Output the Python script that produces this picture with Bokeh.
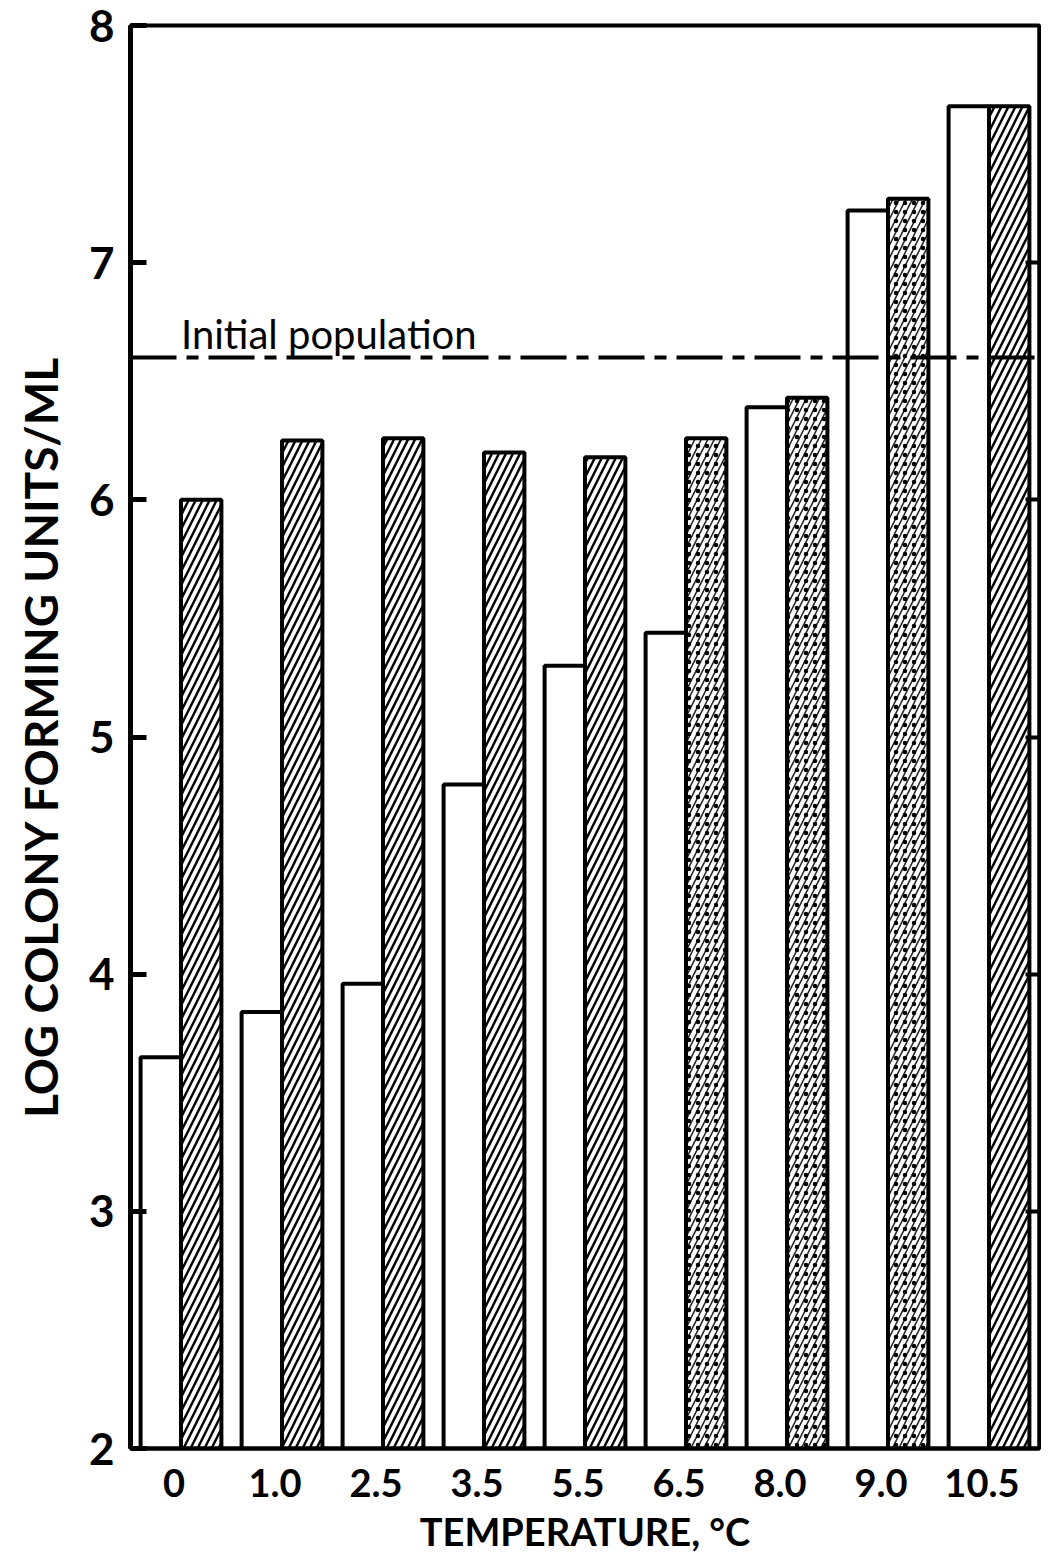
from bokeh.plotting import figure
from bokeh.models import (Range1d, FixedTicker, LinearAxis, Span, Label,
                          ColumnDataSource, CustomJSTickFormatter)
from bokeh.transform import dodge
from bokeh.embed import file_html
from bokeh.resources import INLINE

# ---- data ----
temps = ["0", "1.0", "2.5", "3.5", "5.5", "6.5", "8.0", "9.0", "10.5"]
open_bars = [3.65, 3.84, 3.96, 4.80, 5.30, 5.44, 6.39, 7.22, 7.66]
hatched_bars = [6.00, 6.25, 6.26, 6.20, 6.18, 6.26, 6.43, 7.27, 7.66]
initial_population = 6.6
y_ticks = [2, 3, 4, 5, 6, 7, 8]
# style: which hatched bars are drawn stippled
stippled = [False, False, False, False, False, True, True, True, False]

idx = list(range(len(temps)))
FONT = "Lato"

src_all = ColumnDataSource(dict(idx=idx, open=open_bars, hatched=hatched_bars))
src_dense = ColumnDataSource(dict(
    idx=[i for i in idx if not stippled[i]],
    hatched=[hatched_bars[i] for i in idx if not stippled[i]]))
src_stip = ColumnDataSource(dict(
    idx=[i for i in idx if stippled[i]],
    hatched=[hatched_bars[i] for i in idx if stippled[i]]))

p = figure(width=1041, height=1556, output_backend="svg", toolbar_location=None,
           x_range=Range1d(-0.5, 8.5), y_range=Range1d(y_ticks[0], y_ticks[-1]),
           min_border_left=130, min_border_top=25, min_border_bottom=100,
           min_border_right=2)
p.grid.visible = False
p.background_fill_color = "white"
p.border_fill_color = "white"
p.outline_line_color = "black"
p.outline_line_width = 4

base = y_ticks[0]

# open (white) bars
p.vbar(x=dodge("idx", -0.2, range=p.x_range), top="open", bottom=base, width=0.4,
       source=src_all, fill_color="white", line_color="black", line_width=4)

# densely hatched bars
p.vbar(x=dodge("idx", 0.2, range=p.x_range), top="hatched", bottom=base, width=0.4,
       source=src_dense, fill_color="white", line_color="black", line_width=4,
       hatch_pattern="/", hatch_scale=14, hatch_weight=2.4, hatch_color="black")

# stippled hatched bars
p.vbar(x=dodge("idx", 0.2, range=p.x_range), top="hatched", bottom=base, width=0.4,
       source=src_stip, fill_color="white", line_color=None,
       hatch_pattern="/", hatch_scale=13, hatch_weight=1.6, hatch_color="black",
       hatch_alpha=0.85)
p.vbar(x=dodge("idx", 0.2, range=p.x_range), top="hatched", bottom=base, width=0.4,
       source=src_stip, fill_alpha=0, line_color="black", line_width=4,
       hatch_pattern=".", hatch_scale=9, hatch_weight=1.2, hatch_color="black")

# initial population line
p.add_layout(Span(location=initial_population, dimension="width", line_color="black",
                  line_width=4, line_dash="46 10 12 10"))
p.add_layout(Label(x=0.0, y=initial_population, y_offset=0, text="Initial population",
                   text_baseline="bottom",
                   text_font=FONT, text_font_size="40px", text_color="black"))

# y axis
ya = p.yaxis[0]
ya.ticker = FixedTicker(ticks=y_ticks)
ya.minor_tick_line_color = None
ya.major_tick_in = 16
ya.major_tick_out = 0
ya.major_tick_line_width = 5
ya.axis_line_width = 5
ya.major_label_standoff = 16
ya.major_label_text_font = FONT
ya.major_label_text_font_size = "44px"
ya.major_label_text_font_style = "bold"
ya.major_label_text_color = "black"
ya.axis_label = "LOG COLONY FORMING UNITS/ML"
ya.axis_label_text_font = FONT
ya.axis_label_text_font_size = "46px"
ya.axis_label_text_font_style = "bold"
ya.axis_label_text_color = "black"
ya.axis_label_standoff = 18

# x axis
xa = p.xaxis[0]
xa.ticker = FixedTicker(ticks=[i - 0.07 for i in idx])
xa.formatter = CustomJSTickFormatter(args=dict(labels=temps),
                                     code="return labels[Math.round(tick)];")
xa.major_tick_line_color = None
xa.minor_tick_line_color = None
xa.major_tick_out = 0
xa.major_tick_in = 0
xa.axis_line_width = 4
xa.major_label_standoff = 20
xa.major_label_text_font = FONT
xa.major_label_text_font_size = "38px"
xa.major_label_text_font_style = "bold"
xa.major_label_text_color = "black"
xa.axis_label = "TEMPERATURE, °C"
xa.axis_label_text_font = FONT
xa.axis_label_text_font_size = "38px"
xa.axis_label_text_font_style = "bold"
xa.axis_label_text_color = "black"
xa.axis_label_standoff = 8

# right axis: inward ticks only
ra = LinearAxis(ticker=FixedTicker(ticks=y_ticks[1:-1]))
ra.formatter = CustomJSTickFormatter(code="return '';")
ra.major_label_standoff = 0
ra.major_tick_in = 14
ra.major_tick_out = 0
ra.major_tick_line_width = 4
ra.minor_tick_line_color = None
ra.axis_line_width = 4
p.add_layout(ra, "right")

open("out.html", "w").write(file_html(p, INLINE))
